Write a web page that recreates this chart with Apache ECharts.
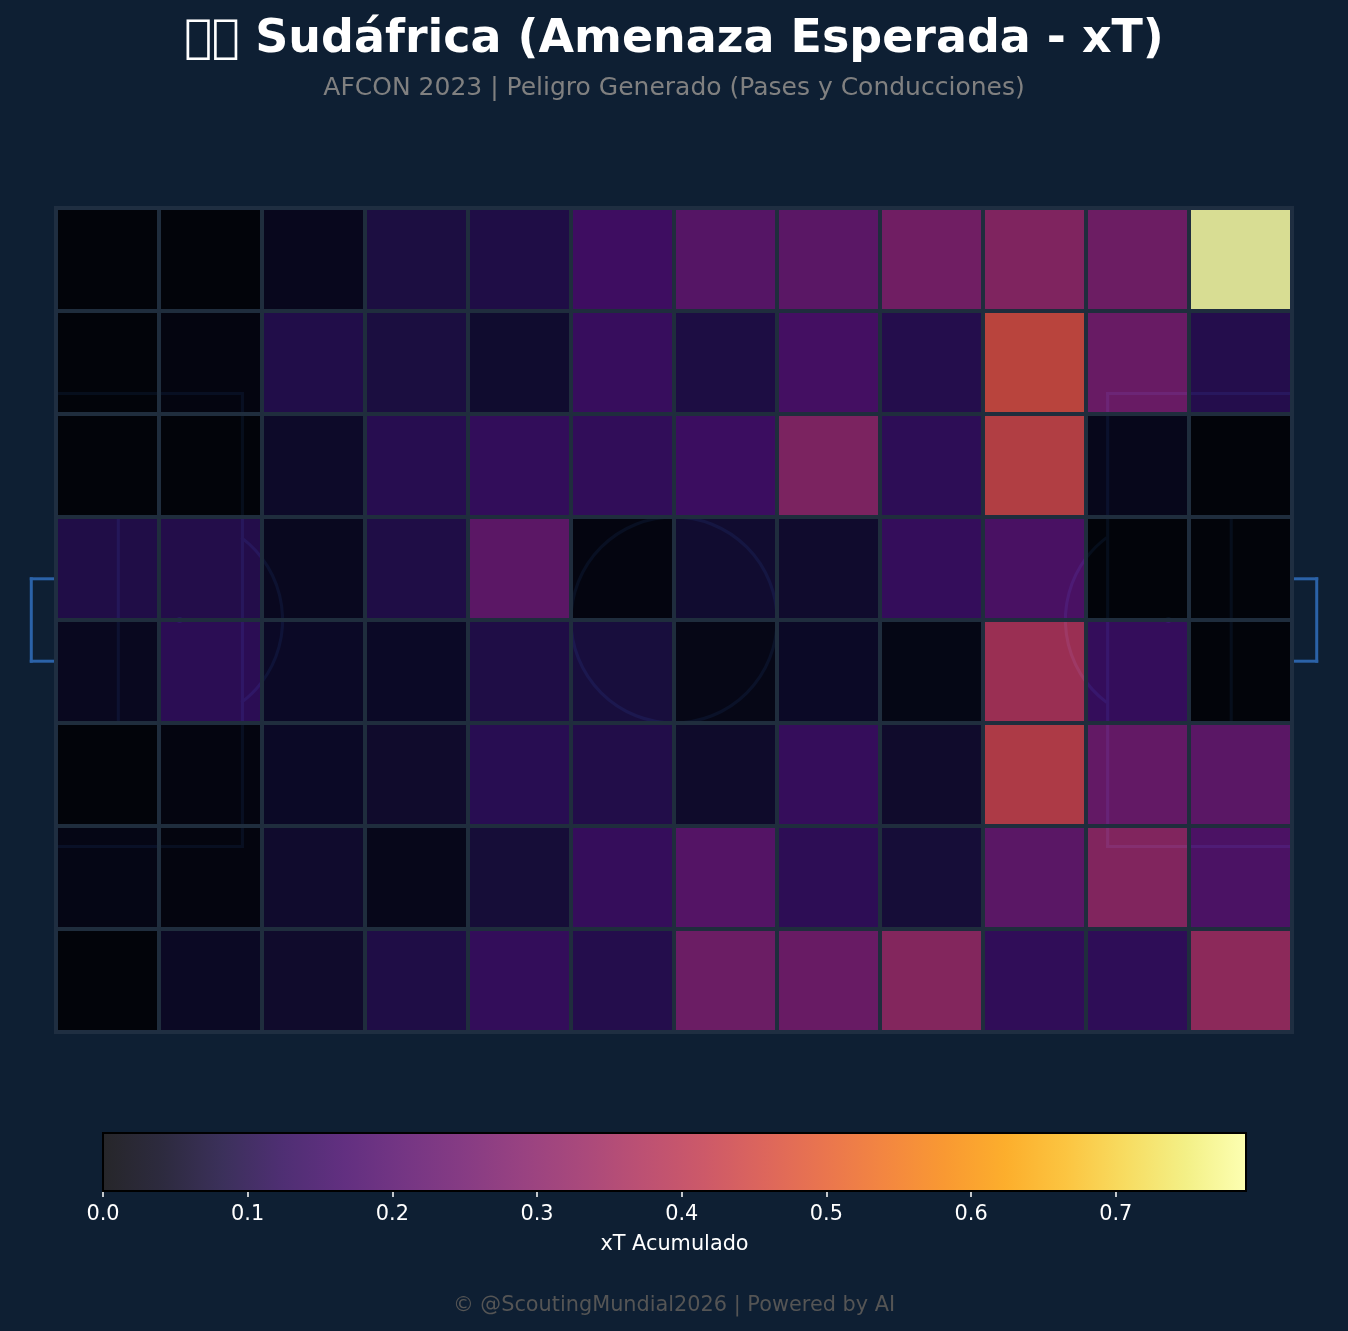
<!DOCTYPE html>
<html>
<head>
<meta charset="utf-8">
<style>html,body{margin:0;padding:0;background:#0e1f33}#chart{width:1348px;height:1331px}</style>
<script src="https://cdn.jsdelivr.net/npm/echarts@6/dist/echarts.min.js"></script>
</head>
<body>
<div id="chart"></div>
<script>
// Accumulated expected threat per pitch zone, one list per horizontal band.
const band1 = [0.000, 0.000, 0.036, 0.092, 0.100, 0.166, 0.220, 0.230, 0.280, 0.315, 0.272, 0.790];
const band2 = [0.000, 0.012, 0.105, 0.090, 0.064, 0.152, 0.095, 0.180, 0.110, 0.458, 0.262, 0.110];
const band3 = [0.000, 0.000, 0.055, 0.118, 0.140, 0.138, 0.160, 0.305, 0.130, 0.438, 0.032, 0.000];
const band4 = [0.102, 0.108, 0.040, 0.100, 0.232, 0.012, 0.066, 0.062, 0.146, 0.190, 0.000, 0.000];
const band5 = [0.040, 0.125, 0.050, 0.050, 0.100, 0.085, 0.024, 0.050, 0.022, 0.378, 0.146, 0.000];
const band6 = [0.000, 0.012, 0.050, 0.060, 0.120, 0.106, 0.058, 0.148, 0.060, 0.426, 0.252, 0.230];
const band7 = [0.020, 0.008, 0.062, 0.030, 0.078, 0.148, 0.216, 0.128, 0.078, 0.230, 0.320, 0.197];
const band8 = [0.000, 0.048, 0.060, 0.100, 0.142, 0.110, 0.268, 0.262, 0.326, 0.136, 0.132, 0.345];
const bands = [band1, band2, band3, band4, band5, band6, band7, band8];

const columnLabels = ['1', '2', '3', '4', '5', '6', '7', '8', '9', '10', '11', '12'];
const rowLabels = ['1', '2', '3', '4', '5', '6', '7', '8'];

const scaleMax = 0.79;
const colorbarTicks = [0, 0.1, 0.2, 0.3, 0.4, 0.5, 0.6, 0.7];
const inferno = ['#000004', '#08051d', '#190c3e', '#300a5b', '#460b6a', '#5c126e', '#71196e',
                 '#87216b', '#9b2964', '#b1325a', '#c43c4e', '#d74b3f', '#e65d2f', '#f1711f',
                 '#f8870e', '#fca007', '#fbba1f', '#f6d645', '#f1ed71', '#fcffa4'];

// Pitch markings in 120 x 80 pitch units: x1, y1, x2, y2.
const pitchSegments = [
  [60, 0, 60, 80],
  [0, 18, 18.1, 18], [18.1, 18, 18.1, 62], [18.1, 62, 0, 62],
  [120, 18, 102.1, 18], [102.1, 18, 102.1, 62], [102.1, 62, 120, 62],
  [0, 30, 6.05, 30], [6.05, 30, 6.05, 50], [6.05, 50, 0, 50],
  [120, 30, 114.1, 30], [114.1, 30, 114.1, 50], [114.1, 50, 120, 50],
  [0, 36, -2.4, 36], [-2.4, 36, -2.4, 44], [-2.4, 44, 0, 44],
  [120, 36, 122.4, 36], [122.4, 36, 122.4, 44], [122.4, 44, 120, 44]
];
// cx, cy, radius, half opening of the arc in degrees, direction it faces in degrees.
const pitchArcs = [
  [60, 40, 10, 180, 0],
  [12, 40, 10, 53.13, 0],
  [108, 40, 10, 53.13, 180],
  [12, 40, 0.15, 180, 0],
  [108, 40, 0.15, 180, 0]
];
const pitchFrame = [[0, 0, 120, 80]];

const pageBg = '#0e1f33';
const pitchLine = '#2b62a8';
const cellEdge = '#1f2d3d';
const frameEdge = '#1f2e41';
const fontFamily = '"DejaVu Sans", sans-serif';

const cells = [];
bands.forEach((band, r) => band.forEach((v, c) => cells.push([c, r, v])));

const chart = echarts.init(document.getElementById('chart'), null, { renderer: 'canvas' });

const pitchRect = { left: 56, top: 208, width: 1236, height: 824 };

chart.setOption({
  backgroundColor: pageBg,
  animation: false,
  textStyle: { fontFamily },
  title: [
    { text: '\uE000\uE000 Sudáfrica (Amenaza Esperada - xT)', left: 'center', top: 12,
      textStyle: { color: '#ffffff', fontSize: 45.95, fontWeight: 'bold', fontFamily } },
    { text: 'AFCON 2023 | Peligro Generado (Pases y Conducciones)', left: 'center', top: 71,
      textStyle: { color: '#808080', fontSize: 25, fontWeight: 'normal', fontFamily } },
    { text: '© @ScoutingMundial2026 | Powered by AI', left: 'center', top: 1290,
      textStyle: { color: '#555555', fontSize: 20.83, fontWeight: 'normal', fontFamily } }
  ],
  grid: [
    { ...pitchRect, containLabel: false },
    { ...pitchRect, containLabel: false },
    { left: 103, top: 1133, width: 1143, height: 58, containLabel: false }
  ],
  xAxis: [
    { gridIndex: 0, type: 'category', data: columnLabels, z: 5,
      axisLine: { show: false }, axisTick: { show: false }, axisLabel: { show: false },
      splitLine: { show: true, lineStyle: { color: cellEdge, width: 4 } } },
    { gridIndex: 1, type: 'value', min: 0, max: 120, show: false },
    { gridIndex: 2, type: 'value', min: 0, max: scaleMax, interval: 0.1,
      position: 'bottom', splitLine: { show: false },
      axisLine: { show: false },
      axisTick: { show: true, length: 6, customValues: colorbarTicks,
                  lineStyle: { color: '#ffffff', width: 1.5 } },
      axisLabel: { show: true, color: '#ffffff', fontSize: 20.83, margin: 13, fontFamily,
                   customValues: colorbarTicks, formatter: v => v.toFixed(1) },
      name: 'xT Acumulado', nameLocation: 'middle', nameGap: 43,
      nameTextStyle: { color: '#ffffff', fontSize: 20.83, fontFamily } }
  ],
  yAxis: [
    { gridIndex: 0, type: 'category', data: rowLabels, inverse: true, z: 5,
      axisLine: { show: false }, axisTick: { show: false }, axisLabel: { show: false },
      splitLine: { show: true, lineStyle: { color: cellEdge, width: 4 } } },
    { gridIndex: 1, type: 'value', min: 0, max: 80, inverse: true, show: false },
    { gridIndex: 2, type: 'value', min: 0, max: 1, show: false }
  ],
  visualMap: {
    show: false, type: 'continuous', seriesIndex: 2, min: 0, max: scaleMax,
    inRange: { color: inferno }
  },
  series: [
    // Straight pitch markings, beneath the translucent zones.
    {
      type: 'custom', xAxisIndex: 1, yAxisIndex: 1, z: 1, silent: true,
      data: pitchSegments,
      renderItem(params, api) {
        const a = api.coord([api.value(0), api.value(1)]);
        const b = api.coord([api.value(2), api.value(3)]);
        return {
          type: 'line',
          shape: { x1: a[0], y1: a[1], x2: b[0], y2: b[1] },
          style: { stroke: pitchLine, lineWidth: 3, lineCap: 'square', fill: null }
        };
      }
    },
    // Centre circle, penalty arcs and spots.
    {
      type: 'custom', xAxisIndex: 1, yAxisIndex: 1, z: 1, silent: true,
      data: pitchArcs,
      renderItem(params, api) {
        const c = api.coord([api.value(0), api.value(1)]);
        const r = api.size([api.value(2), 0])[0];
        const half = api.value(3) * Math.PI / 180;
        const facing = api.value(4) * Math.PI / 180;
        return {
          type: 'arc',
          shape: { cx: c[0], cy: c[1], r, startAngle: facing - half, endAngle: facing + half, clockwise: true },
          style: { stroke: pitchLine, lineWidth: 3, fill: null }
        };
      }
    },
    // Threat zones.
    {
      type: 'heatmap', xAxisIndex: 0, yAxisIndex: 0, z: 2, silent: true, progressive: 0,
      data: cells,
      itemStyle: { opacity: 0.85, borderWidth: 0 },
      emphasis: { disabled: true }
    },
    // Colour scale bar.
    {
      type: 'custom', xAxisIndex: 2, yAxisIndex: 2, z: 3, silent: true,
      data: [[0, scaleMax]],
      renderItem(params, api) {
        const a = api.coord([api.value(0), 1]);
        const b = api.coord([api.value(1), 0]);
        const shape = { x: a[0], y: a[1], width: b[0] - a[0], height: b[1] - a[1] };
        const stops = inferno.map((color, i) => ({ offset: i / (inferno.length - 1), color }));
        return {
          type: 'group',
          children: [
            { type: 'rect', shape, style: { fill: '#ffffff' } },
            { type: 'rect', shape, style: { opacity: 0.85,
                fill: new echarts.graphic.LinearGradient(0, 0, 1, 0, stops) } },
            { type: 'rect', shape, style: { fill: null, stroke: '#000000', lineWidth: 2 } }
          ]
        };
      }
    },
    // Closed outline of the playing area, above the zone grid lines.
    {
      type: 'custom', xAxisIndex: 1, yAxisIndex: 1, z: 6, silent: true,
      data: pitchFrame,
      renderItem(params, api) {
        const a = api.coord([api.value(0), api.value(1)]);
        const b = api.coord([api.value(2), api.value(3)]);
        return {
          type: 'rect',
          shape: { x: a[0], y: a[1], width: b[0] - a[0], height: b[1] - a[1] },
          style: { fill: null, stroke: frameEdge, lineWidth: 4 }
        };
      }
    }
  ]
});
</script>
</body>
</html>
